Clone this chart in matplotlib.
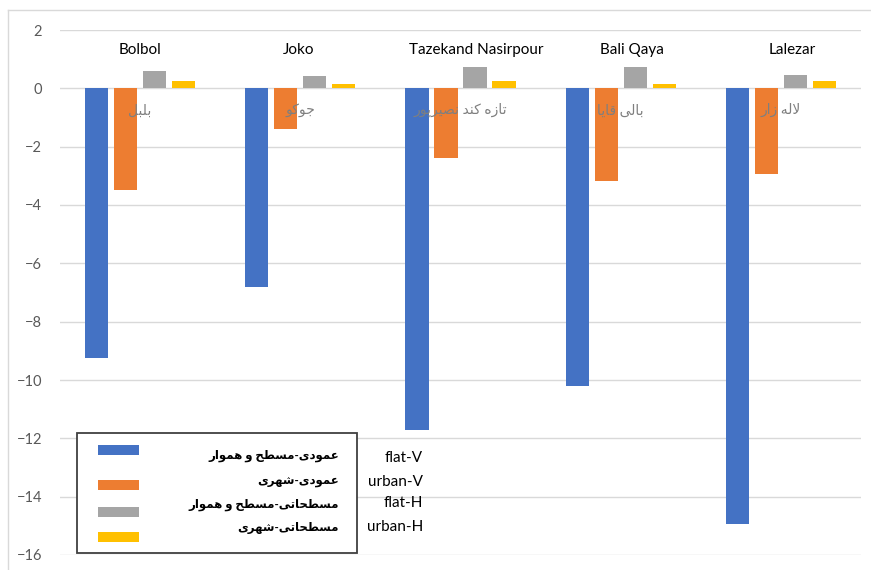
import matplotlib
matplotlib.use("Agg")
from matplotlib import pyplot as plt
from matplotlib.patches import Rectangle
from matplotlib.lines import Line2D
import numpy as np

# data
villages = ["Bolbol", "Joko", "Tazekand Nasirpour", "Bali Qaya", "Lalezar"]
villages_fa = ["بلبل", "جوکو", "تازه کند نصیرپور", "بالی قایا", "لاله زار"]
series_fa = ["عمودی-مسطح و هموار", "عمودی-شهری", "مسطحاتی-مسطح و هموار", "مسطحاتی-شهری"]
series_en = ["flat-V", "urban-V", "flat-H", "urban-H"]
flat_v = [-9.25, -6.8, -11.7, -10.2, -14.95]
urban_v = [-3.47, -1.4, -2.4, -3.18, -2.93]
flat_h = [0.58, 0.41, 0.72, 0.72, 0.45]
urban_h = [0.24, 0.14, 0.24, 0.14, 0.24]
y_ticks = list(range(-16, 3, 2))

colors = ["#4472C4", "#ED7D31", "#A5A5A5", "#FFC000"]
# the english names were placed by hand, slightly off centre
name_nudge = [0.0, -0.01, 0.1, 0.07, 0.07]

W, H = 871, 570
FONT = ["Lato", "DejaVu Sans"]

# arabic presentation forms: isolated, final, initial, medial
ARABIC = {
    "\u0627": (0xFE8D, 0xFE8E),
    "\u062F": (0xFEA9, 0xFEAA),
    "\u0631": (0xFEAD, 0xFEAE),
    "\u0632": (0xFEAF, 0xFEB0),
    "\u0648": (0xFEED, 0xFEEE),
    "\u0628": (0xFE8F, 0xFE90, 0xFE91, 0xFE92),
    "\u067E": (0xFB56, 0xFB57, 0xFB58, 0xFB59),
    "\u062A": (0xFE95, 0xFE96, 0xFE97, 0xFE98),
    "\u062C": (0xFE9D, 0xFE9E, 0xFE9F, 0xFEA0),
    "\u062D": (0xFEA1, 0xFEA2, 0xFEA3, 0xFEA4),
    "\u0633": (0xFEB1, 0xFEB2, 0xFEB3, 0xFEB4),
    "\u0634": (0xFEB5, 0xFEB6, 0xFEB7, 0xFEB8),
    "\u0635": (0xFEB9, 0xFEBA, 0xFEBB, 0xFEBC),
    "\u0637": (0xFEC1, 0xFEC2, 0xFEC3, 0xFEC4),
    "\u0639": (0xFEC9, 0xFECA, 0xFECB, 0xFECC),
    "\u0642": (0xFED5, 0xFED6, 0xFED7, 0xFED8),
    "\u06A9": (0xFB8E, 0xFB8F, 0xFB90, 0xFB91),
    "\u0644": (0xFEDD, 0xFEDE, 0xFEDF, 0xFEE0),
    "\u0645": (0xFEE1, 0xFEE2, 0xFEE3, 0xFEE4),
    "\u0646": (0xFEE5, 0xFEE6, 0xFEE7, 0xFEE8),
    "\u0647": (0xFEE9, 0xFEEA, 0xFEEB, 0xFEEC),
    "\u06CC": (0xFBFC, 0xFBFD, 0xFBFE, 0xFBFF),
}


def joins_forward(c):
    return c in ARABIC and len(ARABIC[c]) == 4


def shape(text):
    """Join persian letters and put them in visual (left to right) order."""
    glyphs = []
    i, n = 0, len(text)
    while i < n:
        c = text[i]
        prev = text[i - 1] if i > 0 else ""
        if c == "\u0644" and i + 1 < n and text[i + 1] == "\u0627":
            glyphs.append("\uFEFC" if joins_forward(prev) else "\uFEFB")
            i += 2
            continue
        if c not in ARABIC:
            glyphs.append(c)
            i += 1
            continue
        nxt = text[i + 1] if i + 1 < n else ""
        f = ARABIC[c]
        a = joins_forward(prev)
        b = len(f) == 4 and nxt in ARABIC
        if a and b:
            g = f[3]
        elif a:
            g = f[1]
        elif b:
            g = f[2]
        else:
            g = f[0]
        glyphs.append(chr(g))
        i += 1
    return "".join(reversed(glyphs))


def fx(x):
    return x / W


def fy(y):
    return 1 - y / H


fig = plt.figure(figsize=(W / 100, H / 100), dpi=100)
ax = fig.add_axes([fx(60), fy(555), fx(861) - fx(60), fy(30) - fy(555)])

x = np.arange(len(villages))
step, width = 0.181, 0.144
for k, vals in enumerate([flat_v, urban_v, flat_h, urban_h]):
    ax.bar(x + (k - 1.5) * step, vals, width, color=colors[k], zorder=3)

ax.set_xlim(-0.5, len(villages) - 0.5)
ax.set_ylim(-16, 2)
ax.set_yticks(y_ticks)
ax.set_xticks([])
ax.grid(axis="y", color="#D9D9D9", lw=1, zorder=0)
for s in ax.spines.values():
    s.set_visible(False)
ax.tick_params(axis="y", length=0, pad=13, labelcolor="#595959", labelsize=10.5)
for lab in ax.get_yticklabels():
    lab.set_family(FONT)

for i, (en, fa) in enumerate(zip(villages, villages_fa)):
    ax.text(i + name_nudge[i], 1.3, en, ha="center", va="center", fontsize=11,
            family=FONT, color="black")
    ax.text(i, -0.75, shape(fa), ha="center", va="center", fontsize=10,
            family=FONT, color="#7F7F7F", zorder=4)

# outer chart frame
fig.add_artist(Line2D([fx(8), fx(8)], [fy(10), 0], color="#D9D9D9", lw=1))
fig.add_artist(Line2D([fx(8), 1], [fy(10), fy(10)], color="#D9D9D9", lw=1))

# legend box drawn by hand like in the reference
fig.add_artist(Rectangle((fx(77), fy(553)), fx(357) - fx(77), fy(433) - fy(553),
                         facecolor="white", edgecolor="#404040", lw=1.3, zorder=5))
patch_y = [450, 485, 512, 537]
text_y = [456, 483, 505, 528]
en_y = [458, 482, 503, 527]
for k in range(4):
    fig.add_artist(Rectangle((fx(98), fy(patch_y[k] + 5)), fx(139) - fx(98),
                             fy(patch_y[k] - 5) - fy(patch_y[k] + 5),
                             facecolor=colors[k], edgecolor="none", zorder=6))
    fig.text(fx(339), fy(text_y[k]), shape(series_fa[k]), ha="right", va="center",
             fontsize=8.5, fontweight="bold", family=FONT, color="black", zorder=6)
    fig.text(fx(423), fy(en_y[k]), series_en[k], ha="right", va="center",
             fontsize=11, family=FONT, color="black")

fig.savefig("out.png", dpi=100, facecolor="white")
